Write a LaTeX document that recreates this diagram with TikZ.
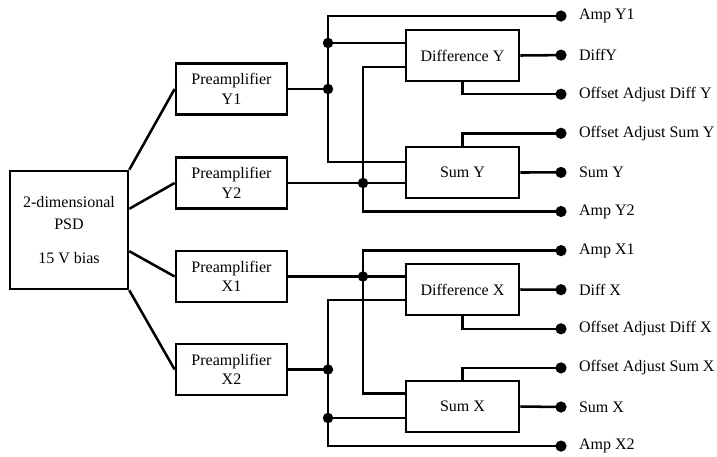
\documentclass[tikz,border=0pt]{standalone}
\usepackage{fontspec}
\setmainfont{Liberation Serif}
\usetikzlibrary{positioning, calc}

\tikzset{
  block/.style={draw, line width=1.8pt, minimum width=2.78cm, minimum height=1.28cm, align=center, inner sep=2pt},
  wire/.style={line width=1.8pt},
  dot/.style={circle, fill, inner sep=0pt, minimum size=0.26cm},
  term/.style={circle, fill, inner sep=0pt, minimum size=0.28cm},
}

\begin{document}
\begin{tikzpicture}[x=0.025cm, y=-0.025cm, font=\fontsize{11.4}{14}\selectfont]
    \useasboundingbox (0,0) rectangle (717,456);

    % detector and preamplifiers
    \node[block, minimum width=2.95cm, minimum height=2.95cm] (psd) at (69,230) {2-dimensional\\[2pt]PSD\\[10pt]15 V bias};
    \node[block] (preY1) at (231.5,89) {Preamplifier\\Y1};
    \node[block] (preY2) at (231.5,183) {Preamplifier\\Y2};
    \node[block] (preX1) at (231.5,276.5) {Preamplifier\\X1};
    \node[block] (preX2) at (231.5,369.5) {Preamplifier\\X2};

    % sum and difference stages
    \node[block, minimum width=2.83cm] (diffY) at (462.5,55.5) {Difference Y};
    \node[block, minimum width=2.83cm] (sumY) at (462.5,172.5) {Sum Y};
    \node[block, minimum width=2.83cm] (diffX) at (462.5,289.5) {Difference X};
    \node[block, minimum width=2.83cm] (sumX) at (462.5,406.5) {Sum X};

    % outputs
    \foreach \name/\txt [count=\i from 0] in {ampY1/Amp Y1, diffYout/DiffY, offDY/Offset Adjust Diff Y,
        offSY/Offset Adjust Sum Y, sumYout/Sum Y, ampY2/Amp Y2, ampX1/Amp X1, diffXout/Diff X,
        offDX/Offset Adjust Diff X, offSX/Offset Adjust Sum X, sumXout/Sum X, ampX2/Amp X2}
        \node[term, label={[label distance=0.18cm]right:\txt}] (\name) at (561,16+39.1*\i) {};

    \draw[wire]
        (psd.north east) -- (preY1.west)
        ([yshift=0.53cm]psd.east) -- (preY2.west)
        ([yshift=-0.53cm]psd.east) -- (preX1.west)
        (psd.south east) -- (preX2.west);

    % Y channel
    \node[dot] (jA) at (328,89) {};
    \node[dot] (jB) at (328,43) {};
    \node[dot] (jC) at (363,183) {};
    \draw[wire] (preY1.east) -- (jA.center);
    \draw[wire] (ampY1.center) -| (jB.center) -- (jA.center) |- ([yshift=0.26cm]sumY.west);
    \draw[wire] (jB.center) -- (jB -| diffY.west);
    \draw[wire] (preY2.east) -- (preY2.east -| sumY.west);
    \draw[wire] ([yshift=-0.29cm]diffY.west) -| (jC.center) |- (ampY2.center);
    \draw[wire] (diffY.east) -- (diffYout.center);
    \draw[wire] (diffY.south) |- (offDY.center);
    \draw[wire] (sumY.north) |- (offSY.center);
    \draw[wire] (sumY.east) -- (sumYout.center);

    % X channel
    \node[dot] (jD) at (363,276.5) {};
    \node[dot] (jE) at (328,369.5) {};
    \node[dot] (jF) at (328,418) {};
    \draw[wire] (preX1.east) -- (preX1.east -| diffX.west);
    \draw[wire] (ampX1.center) -| (jD.center) |- ([yshift=0.32cm]sumX.west);
    \draw[wire] ([yshift=-0.26cm]diffX.west) -| (jE.center) -- (jF.center) |- (ampX2.center);
    \draw[wire] (preX2.east) -- (jE.center);
    \draw[wire] (jF.center) -- (jF -| sumX.west);
    \draw[wire] (diffX.east) -- (diffXout.center);
    \draw[wire] (diffX.south) |- (offDX.center);
    \draw[wire] (sumX.north) |- (offSX.center);
    \draw[wire] (sumX.east) -- (sumXout.center);
\end{tikzpicture}
\end{document}
